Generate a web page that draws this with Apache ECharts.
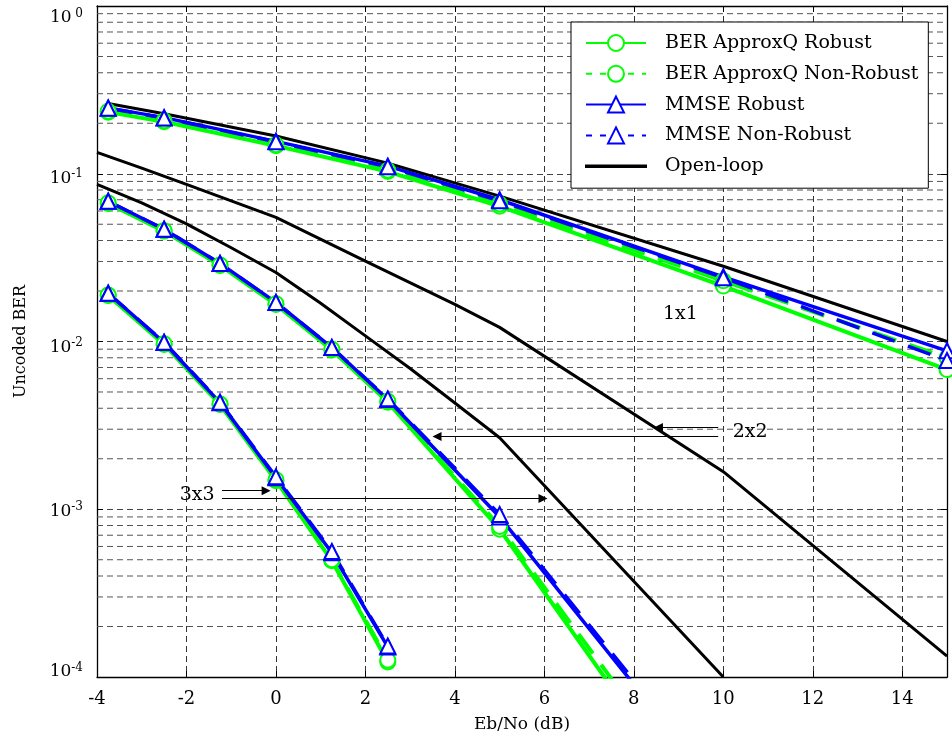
<!DOCTYPE html>
<html><head><meta charset="utf-8">
<script src="https://cdn.jsdelivr.net/npm/echarts@6/dist/echarts.min.js"></script>
<style>html,body{margin:0;padding:0;background:#fff}#c{width:952px;height:747px}</style>
</head><body><div id="c"></div>
<script>
// ---------------- data ----------------
const xTicks = [-4, -2, 0, 2, 4, 6, 8, 10, 12, 14];
const yDecades = [1e-4, 1e-3, 1e-2, 1e-1, 1];

// 1x1
const x1 = [-3.75, -2.5, 0, 2.5, 5, 10, 15];
const g1R  = [0.233, 0.204, 0.147, 0.103, 0.064, 0.0214, 0.0068];
const g1NR = [0.236, 0.207, 0.149, 0.105, 0.066, 0.0230, 0.0080];
const b1R  = [0.247, 0.216, 0.156, 0.111, 0.070, 0.0243, 0.0088];
const b1NR = [0.246, 0.215, 0.155, 0.110, 0.069, 0.0240, 0.0077];
// 2x2
const x2 = [-3.75, -2.5, -1.25, 0, 1.25, 2.5, 5, 10];
const g2R  = [0.0665, 0.0455, 0.0284, 0.0166, 0.0089, 0.00435, 7.6e-4, 1.0e-5];
const g2NR = [0.0670, 0.0458, 0.0286, 0.0168, 0.0090, 0.00440, 7.9e-4, 1.2e-5];
const b2R  = [0.0686, 0.0467, 0.0292, 0.0171, 0.0092, 0.00451, 9.0e-4, 1.95e-5];
const b2NR = [0.0686, 0.0467, 0.0292, 0.0171, 0.0092, 0.00455, 9.3e-4, 2.1e-5];
// 3x3
const x3 = [-3.75, -2.5, -1.25, 0, 1.25, 2.5];
const g3R  = [0.0188, 0.0096, 0.00421, 0.00148, 4.93e-4, 1.23e-4];
const g3NR = [0.0189, 0.0097, 0.00424, 0.00150, 5.0e-4, 1.26e-4];
const b3R  = [0.0194, 0.00986, 0.00432, 0.00154, 5.5e-4, 1.51e-4];
const b3NR = [0.0194, 0.0099, 0.00434, 0.00156, 5.6e-4, 1.53e-4];
// open loop
const xOL1 = [-3.75, -2.5, 0, 2.5, 5, 10, 15];
const ol1  = [0.262, 0.228, 0.168, 0.1157, 0.0735, 0.0281, 0.0100];
const xOL2 = [-4, -3, -2, -1, 0, 2, 4, 5, 10, 15];
const ol2  = [0.134, 0.108, 0.0865, 0.069, 0.0549, 0.0301, 0.01664, 0.01214, 0.001675, 1.333e-4];
const xOL3 = [-4, -3, -2, -1, 0, 1, 2, 3, 4, 5, 10];
const ol3  = [0.0865, 0.067, 0.0503, 0.0362, 0.0258, 0.0169, 0.0108, 0.0069, 0.0043, 0.00267, 1.0e-4];

// annotations
const labels = [
  {text: '1x1', x: 9.04, y: 0.01449},
  {text: '2x2', x: 10.60, y: 0.00290},
  {text: '3x3', x: -1.76, y: 0.00122}
];
const arrows = [
  {from: [9.886, 0.00307], to: [8.55, 0.00307]},
  {from: [9.886, 0.00271], to: [3.60, 0.00271]},
  {from: [-1.205, 0.00129], to: [-0.22, 0.00129]},
  {from: [-1.205, 0.00116], to: [5.97, 0.00116]}
];

const names = ['BER ApproxQ Robust', 'BER ApproxQ Non-Robust', 'MMSE Robust', 'MMSE Non-Robust', 'Open-loop'];
// --------------------------------------

const FONT = "'DejaVu Serif', serif";
const GREEN = '#00ff00', BLUE = '#0000ff', BLACK = '#000000';
const DASH = [24, 14];

function pairs(xs, ys) { return xs.map((x, i) => [x, ys[i]]); }
function mk(name, xs, ys, color, dashed, symbol, width) {
  return {
    type: 'line', name: name, data: pairs(xs, ys),
    symbol: symbol, symbolSize: 15, showSymbol: symbol !== 'none',
    lineStyle: {color: color, width: width, type: dashed ? DASH : 'solid'},
    itemStyle: {color: color, borderColor: color, borderWidth: 3},
    emphasis: {disabled: true}, animation: false, clip: true, z: 3
  };
}

// minor log grid lines (2..9 x each decade)
const minorVals = [];
for (let d = -4; d < 0; d++) for (let k = 2; k <= 9; k++) minorVals.push(k * Math.pow(10, d));
const gridSeries = minorVals.map(function (v) {
  return {
    type: 'line', name: '_g', data: [[-4, v], [15, v]], symbol: 'none', silent: true,
    lineStyle: {color: '#555', width: 1, type: [6, 4]}, emphasis: {disabled: true},
    animation: false, z: 1, tooltip: {show: false}
  };
});

const series = gridSeries.concat([
  mk(names[0], x1, g1R, GREEN, false, 'emptyCircle', 4),
  mk(names[0], x2, g2R, GREEN, false, 'emptyCircle', 4),
  mk(names[0], x3, g3R, GREEN, false, 'emptyCircle', 4),
  mk(names[1], x1, g1NR, GREEN, true, 'emptyCircle', 4),
  mk(names[1], x2, g2NR, GREEN, true, 'emptyCircle', 4),
  mk(names[1], x3, g3NR, GREEN, true, 'emptyCircle', 4),
  mk(names[2], x1, b1R, BLUE, false, 'emptyTriangle', 3.5),
  mk(names[2], x2, b2R, BLUE, false, 'emptyTriangle', 3.5),
  mk(names[2], x3, b3R, BLUE, false, 'emptyTriangle', 3.5),
  mk(names[3], x1, b1NR, BLUE, true, 'emptyTriangle', 3.5),
  mk(names[3], x2, b2NR, BLUE, true, 'emptyTriangle', 3.5),
  mk(names[3], x3, b3NR, BLUE, true, 'emptyTriangle', 3.5),
  mk(names[4], xOL1, ol1, BLACK, false, 'none', 3),
  mk(names[4], xOL2, ol2, BLACK, false, 'none', 3),
  mk(names[4], xOL3, ol3, BLACK, false, 'none', 3),
  {
    type: 'line', name: '_annot', data: [], z: 5, silent: true, animation: false,
    markLine: {
      silent: true, animation: false, symbol: ['none', 'triangle'], symbolSize: 9,
      label: {show: false}, emphasis: {disabled: true},
      lineStyle: {color: '#000', width: 1, type: 'solid'},
      data: arrows.map(a => [{coord: a.from}, {coord: a.to}])
    },
    markPoint: {
      silent: true, animation: false, symbol: 'rect', symbolSize: 1,
      itemStyle: {color: 'rgba(0,0,0,0)'},
      label: {show: true, position: 'inside', formatter: '{b}', color: '#000', fontSize: 19, fontFamily: FONT},
      data: labels.map(l => ({name: l.text, coord: [l.x, l.y]}))
    }
  }
]);

// per-decade label nudges (padding top / bottom) to mimic the reference placement
const labelPad = {'0': [24, 0], '-1': [10, 0], '-2': [12, 0], '-3': [4, 0], '-4': [0, 10]};
const rich = {};
Object.keys(labelPad).forEach(function (k, i) {
  const p = labelPad[k];
  rich['b' + i] = {fontFamily: FONT, fontSize: 17, color: '#000', padding: [p[0], 0, p[1], 0]};
  rich['s' + i] = {fontFamily: FONT, fontSize: 12, color: '#000', padding: [p[0], 0, p[1] + 9, 0]};
});
const padKeys = Object.keys(labelPad);

const axisLineStyle = {color: '#000', width: 1.3};
const option = {
  backgroundColor: '#fff',
  animation: false,
  grid: {left: 97, right: 5, top: 6, bottom: 70, containLabel: false},
  legend: {
    left: 571, top: 22, orient: 'vertical',
    backgroundColor: '#fff', borderColor: '#000', borderWidth: 1, borderRadius: 0,
    padding: [11, 10, 12, 14],
    itemWidth: 60, itemHeight: 20, itemGap: 10.8,
    lineStyle: {width: 2},
    textStyle: {fontFamily: FONT, fontSize: 19, color: '#000', lineHeight: 20, padding: [0, 0, 0, 14]},
    selectedMode: false,
    data: [
      {name: names[0]},
      {name: names[1], lineStyle: {type: [6, 8], width: 2}},
      {name: names[2]},
      {name: names[3], lineStyle: {type: [6, 8], width: 2}},
      {name: names[4], icon: 'path://M0,0L60,0L60,1.6L0,1.6Z'}
    ]
  },
  xAxis: [
    {
      type: 'value', min: -4, max: 15, interval: 2, position: 'bottom',
      axisLine: {show: true, onZero: false, lineStyle: axisLineStyle},
      axisTick: {show: true, inside: true, length: 6, lineStyle: {color: '#000'}},
      axisLabel: {color: '#000', fontFamily: FONT, fontSize: 18, margin: 13, showMaxLabel: false},
      splitLine: {show: true, lineStyle: {color: '#333', width: 1, type: [6, 4]}},
      name: 'Eb/No (dB)', nameLocation: 'middle', nameGap: 39,
      nameTextStyle: {color: '#000', fontFamily: FONT, fontSize: 17}
    },
    {
      type: 'value', min: -4, max: 15, interval: 2, position: 'top',
      axisLine: {show: true, onZero: false, lineStyle: axisLineStyle},
      axisTick: {show: true, inside: true, length: 6, lineStyle: {color: '#000'}},
      axisLabel: {show: false}, splitLine: {show: false}
    }
  ],
  yAxis: [
    {
      type: 'log', logBase: 10, min: 1e-4, max: 1, position: 'left',
      axisLine: {show: true, onZero: false, lineStyle: axisLineStyle},
      axisTick: {show: true, inside: true, length: 6, lineStyle: {color: '#000'}},
      axisLabel: {
        color: '#000', fontFamily: FONT, margin: 14,
        formatter: function (v) {
          const e = Math.round(Math.log10(v));
          const i = padKeys.indexOf(String(e));
          return '{b' + i + '|10}{s' + i + '|' + (e === 0 ? ' 0' : String(e)) + '}';
        },
        rich: rich
      },
      splitLine: {show: true, lineStyle: {color: '#444', width: 1, type: [6, 4]}},
      name: 'Uncoded BER', nameLocation: 'middle', nameGap: 68,
      nameTextStyle: {color: '#000', fontFamily: FONT, fontSize: 16}
    },
    {
      type: 'log', logBase: 10, min: 1e-4, max: 1, position: 'right',
      axisLine: {show: true, onZero: false, lineStyle: axisLineStyle},
      axisTick: {show: true, inside: true, length: 6, lineStyle: {color: '#000'}},
      axisLabel: {show: false}, splitLine: {show: false}
    }
  ],
  series: series
};

const chart = echarts.init(document.getElementById('c'), null, {renderer: 'canvas'});
chart.setOption(option);
</script>
</body></html>
